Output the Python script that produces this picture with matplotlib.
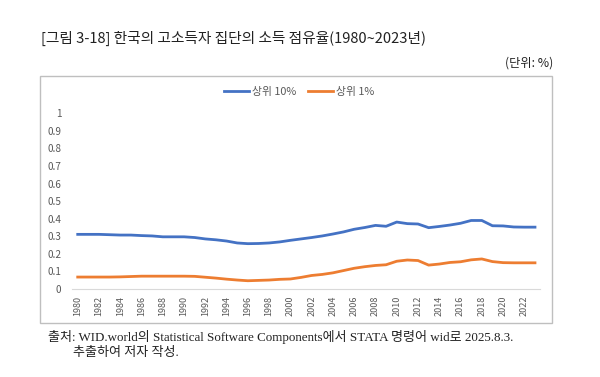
import matplotlib
matplotlib.use("Agg")
import matplotlib.pyplot as plt
from matplotlib.patches import Rectangle

plt.rcParams['font.family'] = ['Noto Sans CJK KR', 'DejaVu Sans']

years = list(range(1980, 2024))
top10 = [0.311, 0.311, 0.311, 0.309, 0.307, 0.307, 0.304, 0.302, 0.297, 0.297,
         0.297, 0.293, 0.285, 0.280, 0.273, 0.262, 0.258, 0.259, 0.262, 0.268,
         0.277, 0.285, 0.293, 0.302, 0.313, 0.325, 0.340, 0.350, 0.362, 0.357,
         0.381, 0.372, 0.370, 0.349, 0.356, 0.364, 0.374, 0.390, 0.390, 0.360,
         0.359, 0.353, 0.352, 0.352]
top1 = [0.068, 0.068, 0.068, 0.068, 0.069, 0.071, 0.073, 0.073, 0.073, 0.073,
        0.073, 0.072, 0.067, 0.062, 0.056, 0.051, 0.047, 0.049, 0.051, 0.055,
        0.057, 0.066, 0.077, 0.083, 0.092, 0.105, 0.118, 0.127, 0.134, 0.138,
        0.158, 0.165, 0.162, 0.136, 0.142, 0.151, 0.155, 0.166, 0.171, 0.156,
        0.150, 0.149, 0.149, 0.149]
yticks = [0, 0.1, 0.2, 0.3, 0.4, 0.5, 0.6, 0.7, 0.8, 0.9, 1]
ytick_labels = ["0", "0.1", "0.2", "0.3", "0.4", "0.5", "0.6", "0.7", "0.8", "0.9", "1"]

W, H = 600, 377
fig = plt.figure(figsize=(6, 3.77), dpi=100)

# chart frame
fig.patches.append(Rectangle((40 / W, 1 - 323 / H), 512 / W, 247 / H,
                             transform=fig.transFigure, fill=False,
                             edgecolor="#bfbfbf", lw=1))

ax = fig.add_axes([72.4 / W, 1 - 289 / H, 467.9 / W, 175.7 / H])
ax.plot(years, top10, color="#4472C4", lw=2, label="상위 10%")
ax.plot(years, top1, color="#ED7D31", lw=2, label="상위 1%")
ax.set_xlim(1979.5, 2023.5)
ax.set_ylim(0, 1)
ax.set_yticks(yticks)
ax.set_yticklabels(ytick_labels)
ax.set_xticks(years[::2])
ax.set_xticklabels([str(y) for y in years[::2]], rotation=90)
for s in ["top", "right", "left"]:
    ax.spines[s].set_visible(False)
ax.spines["bottom"].set_color("#d9d9d9")
ax.tick_params(axis="both", length=0, colors="#595959")
ax.tick_params(axis="y", pad=8, labelsize=7.2)
ax.tick_params(axis="x", pad=5, labelsize=6.5)

leg = ax.legend(loc="center", bbox_to_anchor=(299 / W, 1 - 92 / H),
                bbox_transform=fig.transFigure, ncol=2, frameon=False,
                fontsize=7.8, handlelength=2.3, handletextpad=0.25,
                columnspacing=1.1)
for t in leg.get_texts():
    t.set_color("#595959")

fig.text(41 / W, 1 - 38 / H, "[그림 3-18] 한국의 고소득자 집단의 소득 점유율(1980~2023년)",
         fontsize=10.6, va="center", ha="left", color="#222222")
fig.text(553 / W, 1 - 63 / H, "(단위: %)", fontsize=8.8, va="center", ha="right",
         color="#222222")

serif = ["Liberation Serif", "Noto Sans CJK KR"]
fig.text(48 / W, 1 - 337 / H,
         "출처: WID.world의 Statistical Software Components에서 STATA 명령어 wid로 2025.8.3.",
         fontsize=9.4, va="center", ha="left", family=serif, color="#222222")
fig.text(73 / W, 1 - 353 / H, "추출하여 저자 작성.",
         fontsize=9.4, va="center", ha="left", family=serif, color="#222222")

fig.savefig("out.png", dpi=100)
